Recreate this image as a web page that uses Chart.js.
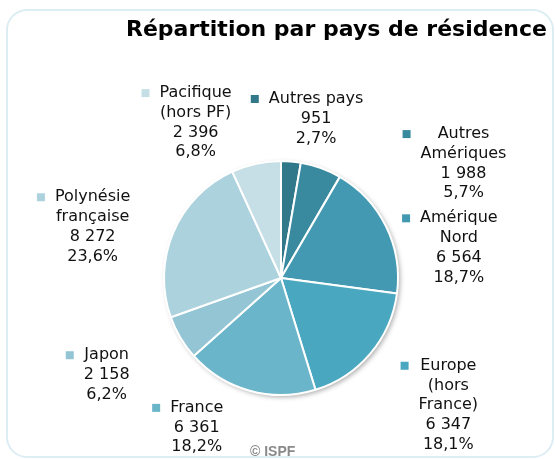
<!DOCTYPE html>
<html>
<head>
<meta charset="utf-8">
<script src="https://cdn.jsdelivr.net/npm/chart.js@4/dist/chart.umd.min.js"></script>
<style>
  html, body { margin: 0; padding: 0; background: #fff; }
  #wrap { width: 555px; height: 459px; }
</style>
</head>
<body>
<div id="wrap"><canvas id="pie"></canvas></div>
<script>
// donnees du graphique
const categories = ["Autres pays", "Autres\nAmériques", "Amérique\nNord", "Europe\n(hors\nFrance)", "France", "Japon", "Polynésie\nfrançaise", "Pacifique\n(hors PF)"];
const valeurs = [951, 1988, 6564, 6347, 6361, 2158, 8272, 2396];
const couleurs = ["#31788a", "#3a8a9f", "#4399b1", "#4aa7c0", "#6bb5ca", "#93c5d5", "#acd2de", "#c6dfe7"];

// position des etiquettes, en rayons depuis le centre du camembert
const posEtiquettes = [[0.30, -1.53], [1.56, -1.23], [1.52, -0.51], [1.43, 0.75], [-0.72, 1.11], [-1.49, 0.66], [-1.61, -0.69], [-0.73, -1.58]];

function formatNombre(n) {
    return String(n).replace(/\B(?=(\d{3})+(?!\d))/g, " ");
}

const decor = {
    id: "decor",
    beforeDraw(chart) {
        const ctx = chart.ctx;
        ctx.save();
        ctx.strokeStyle = "#dcedf3";
        ctx.lineWidth = 2;
        ctx.beginPath();
        ctx.roundRect(7, 10, 546, 447, 20);
        ctx.stroke();
        // titre
        ctx.fillStyle = "#000";
        ctx.font = "bold 22px 'DejaVu Sans'";
        ctx.textAlign = "left";
        ctx.textBaseline = "alphabetic";
        ctx.fillText("Répartition par pays de résidence", 126, 36);
        // source
        ctx.fillStyle = "#8a8a8a";
        ctx.font = "bold 14px 'Liberation Sans'";
        ctx.fillText("© ISPF", 250, 456);
        ctx.restore();
    },
    beforeDatasetsDraw(chart) {
        // ombre sous le camembert
        const arc = chart.getDatasetMeta(0).data[0];
        const ctx = chart.ctx;
        ctx.save();
        ctx.shadowColor = "rgba(0,0,0,0.35)";
        ctx.shadowBlur = 5;
        ctx.shadowOffsetX = 2;
        ctx.shadowOffsetY = 2;
        ctx.fillStyle = "#fff";
        ctx.beginPath();
        ctx.arc(arc.x, arc.y, arc.outerRadius, 0, Math.PI * 2);
        ctx.fill();
        ctx.restore();
    },
    afterDatasetsDraw(chart) {
        const ctx = chart.ctx;
        const meta = chart.getDatasetMeta(0);
        const total = valeurs.reduce((a, b) => a + b, 0);
        ctx.save();
        ctx.font = "16px 'DejaVu Sans'";
        ctx.textAlign = "center";
        ctx.textBaseline = "middle";
        meta.data.forEach((arc, i) => {
            const r = arc.outerRadius;
            const x = arc.x + posEtiquettes[i][0] * r;
            const y = arc.y + posEtiquettes[i][1] * r;
            const pct = (valeurs[i] / total * 100).toFixed(1).replace(".", ",") + "%";
            const lignes = categories[i].split("\n").concat([formatNombre(valeurs[i]), pct]);
            let largeur = 0;
            lignes.forEach(l => { largeur = Math.max(largeur, ctx.measureText(l).width); });
            ctx.fillStyle = "#111";
            lignes.forEach((l, k) => ctx.fillText(l, x, y + k * 19.7));
            // petit carre de legende
            ctx.fillStyle = couleurs[i];
            ctx.fillRect(x - largeur / 2 - 18, y - 4, 8, 8);
        });
        ctx.restore();
    }
};

const ctx = document.getElementById("pie").getContext("2d");
const pieChart = new Chart(ctx, {
    type: "pie",
    data: {
        labels: categories,
        datasets: [{
            data: valeurs,
            backgroundColor: couleurs,
            borderColor: "#fff",
            borderWidth: 2
        }]
    },
    options: {
        responsive: true,
        maintainAspectRatio: false,
        animation: false,
        layout: { padding: { left: 163, right: 156, top: 160, bottom: 63 } },
        plugins: {
            legend: { display: false },
            tooltip: { enabled: false }
        }
    },
    plugins: [decor]
});
</script>
</body>
</html>
